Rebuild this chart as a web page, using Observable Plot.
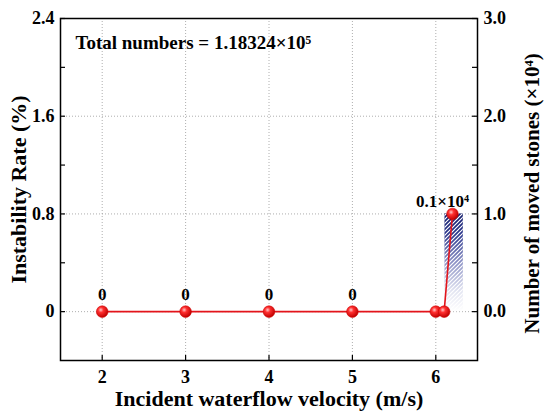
<!DOCTYPE html>
<html><head><meta charset="utf-8">
<script src="https://cdn.jsdelivr.net/npm/d3@7"></script>
<script src="https://cdn.jsdelivr.net/npm/@observablehq/plot@0.6"></script>
<style>body{margin:0;background:#fff} svg{display:block}</style>
</head><body><div id="chart"></div>
<script>
// ---- data ----
const velocity = [2, 3, 4, 5, 6, 6.1, 6.2];
const instabilityRate = [0, 0, 0, 0, 0, 0, 0.8];
const valueLabels = ["0", "0", "0", "0", "", "", "0.1×10⁴"];
const barVelocity = [6.22];
const movedStones = [1.0]; // ×10^4
const barHalfWidth = 0.11;
const xTicks = [2, 3, 4, 5, 6];
const leftTicks = [0, 0.8, 1.6, 2.4];
const leftMinorTicks = [0.4, 1.2, 2.0];
const rightTicks = [0, 1, 2, 3];
const rightMinorTicks = [0.5, 1.5, 2.5];
const rightPerLeft = 1.25; // right-axis value = left-axis value * 1.25
const titleText = "Total numbers = 1.18324×10⁵";
const xLabel = "Incident waterflow velocity (m/s)";
const yLabel = "Instability Rate (%)";
const y2Label = "Number of moved stones (×10⁴)";

const W = 550, H = 419, mL = 60, mR = 73, mT = 18, mB = 59;
const pw = W - mL - mR, ph = H - mT - mB;

const points = velocity.map((v, i) => ({v, r: instabilityRate[i], label: valueLabels[i]}));
const bars = barVelocity.map((v, i) => ({x1: v - barHalfWidth, x2: v + barHalfWidth, y: movedStones[i] / rightPerLeft}));

function defs() {
  const g = d3.create("svg:g");
  const d = g.append("defs");
  const lg = d.append("linearGradient").attr("id", "barGrad").attr("x1", 0).attr("y1", 0).attr("x2", 0).attr("y2", 1);
  [["0%", "#141d6c"], ["20%", "#28338a"], ["50%", "#8a90c4"], ["80%", "#e2e4f1"], ["100%", "#ffffff"]]
    .forEach(([o, c]) => lg.append("stop").attr("offset", o).attr("stop-color", c));
  const p = d.append("pattern").attr("id", "hatch").attr("patternUnits", "userSpaceOnUse").attr("width", 4).attr("height", 4);
  p.append("path").attr("d", "M-1,1 l2,-2 M0,4 l4,-4 M3,5 l2,-2").attr("stroke", "#fff").attr("stroke-width", 1.2);
  const rg = d.append("radialGradient").attr("id", "ball").attr("cx", "38%").attr("cy", "35%").attr("r", "65%");
  [["0%", "#ffc8c8"], ["35%", "#ff3030"], ["100%", "#c00000"]]
    .forEach(([o, c]) => rg.append("stop").attr("offset", o).attr("stop-color", c));
  return g.node();
}

const chart = Plot.plot({
  width: W, height: H,
  marginLeft: mL, marginRight: mR, marginTop: mT, marginBottom: mB,
  style: {fontFamily: "Liberation Serif", fontWeight: "bold", fontSize: "18px", color: "#000", background: "#fff"},
  x: {domain: [1.5, 6.5]},
  y: {domain: [-0.4, 2.4]},
  marks: [
    defs,
    Plot.gridX(xTicks, {stroke: "#999", strokeOpacity: 1, strokeDasharray: "1,2", strokeWidth: 0.8}),
    Plot.gridY(leftTicks, {stroke: "#999", strokeOpacity: 1, strokeDasharray: "1,2", strokeWidth: 0.8}),
    Plot.rect(bars, {x1: "x1", x2: "x2", y1: 0, y2: "y", fill: "url(#barGrad)"}),
    Plot.rect(bars, {x1: "x1", x2: "x2", y1: 0, y2: "y", fill: "url(#hatch)"}),
    Plot.line(points, {x: "v", y: "r", stroke: "#e3141b", strokeWidth: 1.6}),
    Plot.dot(points, {x: "v", y: "r", r: 5.8, fill: "url(#ball)", stroke: "#d00000", strokeWidth: 0.6}),
    Plot.text(points.slice(0, 4), {x: "v", y: "r", text: "label", dy: -17, fontSize: 17, fontWeight: "bold"}),
    Plot.text(points.slice(6), {x: "v", y: "r", text: "label", dy: -12, dx: -10, fontSize: 17, fontWeight: "bold"}),
    Plot.axisX(xTicks, {tickSize: 0, tickPadding: 10, label: null, fontSize: 18}),
    Plot.axisY(leftTicks, {anchor: "left", tickSize: 0, tickPadding: 6, label: null, fontSize: 18,
      tickFormat: d => d === 0 ? "0" : d.toFixed(1)}),
    Plot.axisY(rightTicks.map(t => t / rightPerLeft), {anchor: "right", tickSize: 0, tickPadding: 6, label: null, fontSize: 18,
      tickFormat: d => (d * rightPerLeft).toFixed(1)}),
    Plot.tickY(leftTicks.concat(leftMinorTicks), {y: d => d, insetRight: pw - 5, stroke: "#000", strokeWidth: 1.2}),
    Plot.tickY(rightTicks.map(t => t / rightPerLeft).concat(rightMinorTicks.map(t => t / rightPerLeft)), {y: d => d, insetLeft: pw - 5, stroke: "#000", strokeWidth: 1.2}),
    Plot.tickX(xTicks, {x: d => d, insetTop: ph - 5, stroke: "#000", strokeWidth: 1.2}),
    Plot.frame({stroke: "#000", strokeWidth: 1.5}),
    Plot.text([titleText], {frameAnchor: "top-left", textAnchor: "start", lineAnchor: "middle", dx: 15, dy: 24, fontSize: 19, fontWeight: "bold"}),
    Plot.text([xLabel], {frameAnchor: "bottom", textAnchor: "middle", lineAnchor: "middle", dy: 38, fontSize: 22, fontWeight: "bold"}),
    Plot.text([yLabel], {frameAnchor: "left", textAnchor: "middle", lineAnchor: "middle", dx: -42, rotate: -90, fontSize: 22, fontWeight: "bold"}),
    Plot.text([y2Label], {frameAnchor: "right", textAnchor: "middle", lineAnchor: "middle", dx: 55, dy: 4, rotate: -90, fontSize: 21, fontWeight: "bold"})
  ]
});
document.getElementById("chart").appendChild(chart);
</script>
</body></html>
